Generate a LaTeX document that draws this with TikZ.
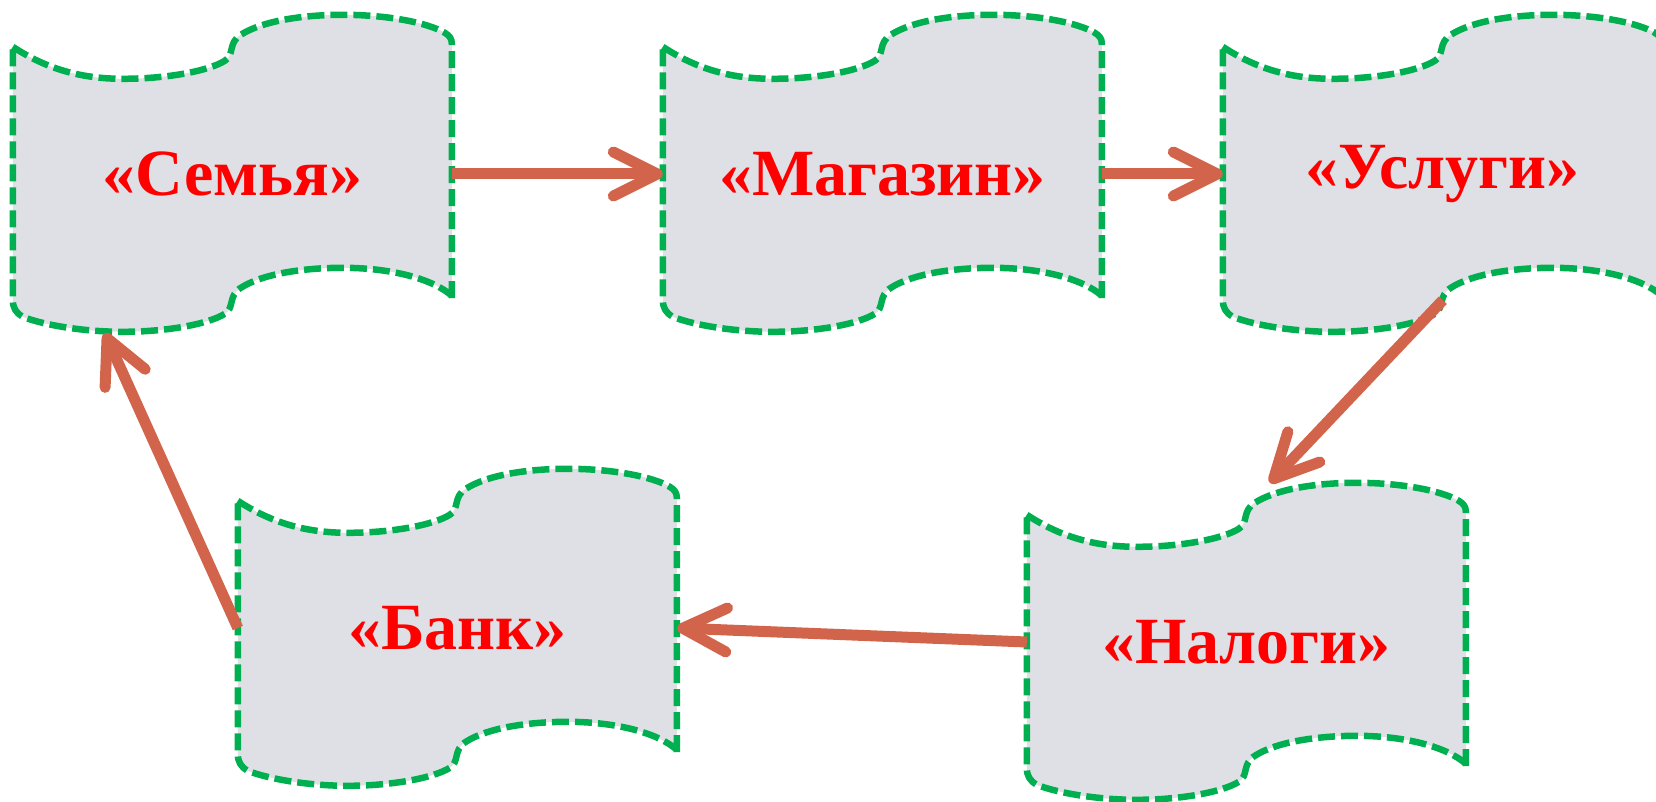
\documentclass[tikz,border=0pt]{standalone}
\usepackage{fontspec}
\setmainfont{Liberation Serif}
\usetikzlibrary{arrows.meta,calc,backgrounds}
\definecolor{wavegreen}{RGB}{0,176,80}
\definecolor{wavefill}{RGB}{223,224,229}
\definecolor{arrowred}{RGB}{209,100,74}
\definecolor{textred}{RGB}{255,0,0}
\tikzset{
  wavebox/.style={minimum width=439pt, minimum height=318pt, inner sep=0pt,
    text=textred, font=\fontsize{66}{78}\selectfont\bfseries},
  waveline/.style={draw=wavegreen, fill=wavefill, line width=6.5pt,
    dash pattern=on 17pt off 6pt, line join=round},
  flow/.style={draw=arrowred, line width=11pt,
    -{Straight Barb[length=44pt,width=44pt,round]}}
}
\newcommand\drawwave[1]{%
  \path[waveline, shift={(#1.north west)}]
    (0,32) .. controls (35,55) and (70,64) .. (110,64)
    .. controls (155,64) and (196,56) .. (212,46)
    .. controls (222,40) and (215,28) .. (228,20)
    .. controls (250,6) and (290,0) .. (330,0)
    .. controls (375,0) and (415,8) .. (432,18)
    .. controls (437,21) and (439,24) .. (439,29)
    -- (439,286) -- (439,281)
    .. controls (420,264) and (378,253) .. (330,253)
    .. controls (290,253) and (250,259) .. (228,273)
    .. controls (215,281) and (222,293) .. (212,299)
    .. controls (196,309) and (155,317) .. (110,317)
    .. controls (70,317) and (30,310) .. (10,302)
    .. controls (3,298) and (0,293) .. (0,285)
    -- cycle;}
\begin{document}
\begin{tikzpicture}[x=1pt,y=-1pt]
\useasboundingbox (0,0) rectangle (1656,802);
\node[wavebox] (semya)   at (232.5,174) {«Семья»};
\node[wavebox] (magazin) at (882.5,174) {«Магазин»};
\node[wavebox] (uslugi)  at (1442.5,174) {«Услуги»};
\node[wavebox] (nalogi)  at (1246.5,642) {«Налоги»};
\node[wavebox] (bank)    at (457.5,628) {«Банк»};
\begin{scope}[on background layer]
  \drawwave{semya}
  \drawwave{magazin}
  \drawwave{uslugi}
  \drawwave{nalogi}
  \drawwave{bank}
\end{scope}
\draw[flow] (semya.east) -- (magazin.west);
\draw[flow] (magazin.east) -- (uslugi.west);
\draw[flow] ($(uslugi.south west)+(220,-33)$) -- ($(nalogi.north west)+(243,0)$);
\draw[flow] (nalogi.west) -- (bank.east);
\draw[flow] (bank.west) -- ($(semya.south west)+(92,0)$);
\end{tikzpicture}
\end{document}
